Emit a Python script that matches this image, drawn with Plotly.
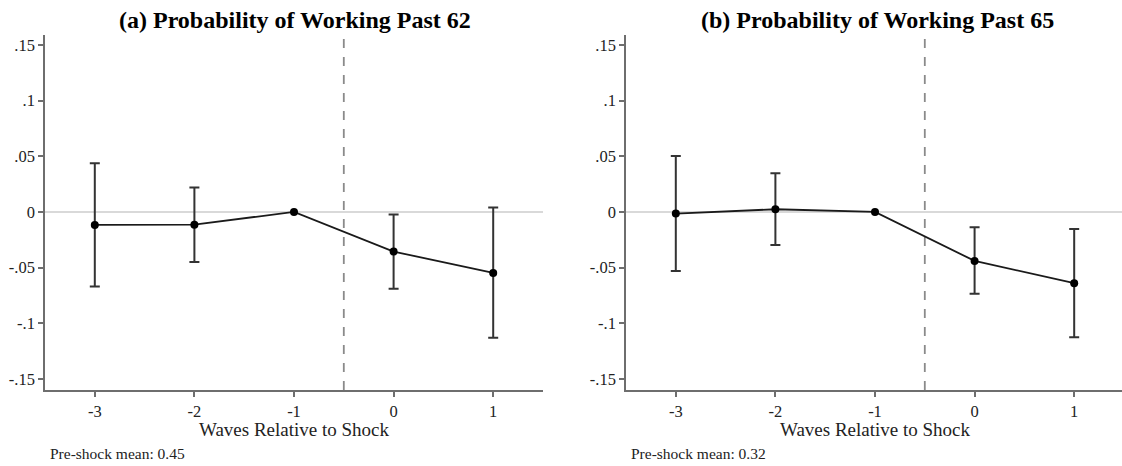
import plotly.graph_objects as go

# ---- data ----
waves = [-3, -2, -1, 0, 1]
x_tick_labels = ["-3", "-2", "-1", "0", "1"]
y_tick_vals = [-0.15, -0.10, -0.05, 0.0, 0.05, 0.10, 0.15]
y_tick_labels = ["-.15", "-.1", "-.05", "0", ".05", ".1", ".15"]

est_62 = [-0.0117, -0.0114, 0.0, -0.0356, -0.0548]
ci_hi_62 = [0.0437, 0.0220, 0.0, -0.0024, 0.0039]
ci_lo_62 = [-0.0670, -0.0450, 0.0, -0.0690, -0.1130]

est_65 = [-0.0015, 0.0024, 0.0, -0.0440, -0.0640]
ci_hi_65 = [0.0503, 0.0347, 0.0, -0.0137, -0.0153]
ci_lo_65 = [-0.0530, -0.0296, 0.0, -0.0736, -0.1125]

reference_wave = -1
shock_line_x = -0.5
titles = ["(a) Probability of Working Past 62", "(b) Probability of Working Past 65"]
x_title = "Waves Relative to Shock"
notes = ["Pre-shock mean: 0.45", "Pre-shock mean: 0.32"]

# ---- figure ----
W, H = 1122, 466
FONT = "Liberation Serif"
AXC = "#6e6e6e"

fig = go.Figure()

panels = [(est_62, ci_hi_62, ci_lo_62, "x", "y"),
          (est_65, ci_hi_65, ci_lo_65, "x2", "y2")]

for est, hi, lo, xa, ya in panels:
    idx = [i for i, w in enumerate(waves) if w != reference_wave]
    fig.add_trace(go.Scatter(
        x=[waves[i] for i in idx], y=[est[i] for i in idx],
        mode="markers", marker=dict(size=1, color="rgba(0,0,0,0)"),
        error_y=dict(type="data", symmetric=False,
                     array=[hi[i] - est[i] for i in idx],
                     arrayminus=[est[i] - lo[i] for i in idx],
                     color="#333333", thickness=2, width=5),
        xaxis=xa, yaxis=ya, showlegend=False, hoverinfo="skip"))
    fig.add_trace(go.Scatter(
        x=waves, y=est, mode="lines+markers",
        line=dict(color="#1a1a1a", width=1.8),
        marker=dict(size=8, color="#000000"),
        xaxis=xa, yaxis=ya, showlegend=False))

ydom = [1 - 390 / H, 1 - 35 / H]
axis_common = dict(showline=True, linecolor=AXC, linewidth=1.6, ticks="outside",
                   ticklen=5, tickwidth=1.5, tickcolor=AXC, showgrid=False,
                   zeroline=False, automargin=False,
                   tickfont=dict(family=FONT, size=16.5, color="#222222"))

fig.update_layout(
    width=W, height=H, margin=dict(l=0, r=0, t=0, b=0),
    paper_bgcolor="white", plot_bgcolor="white",
    xaxis=dict(domain=[45 / W, 543 / W], range=[-3.5, 1.5], anchor="y",
               tickvals=waves, ticktext=x_tick_labels, **axis_common),
    yaxis=dict(domain=ydom, range=[-0.16, 0.159], anchor="x",
               tickvals=y_tick_vals, ticktext=y_tick_labels, **axis_common),
    xaxis2=dict(domain=[626 / W, 1.0], range=[-3.5, 1.48], anchor="y2",
                tickvals=waves, ticktext=x_tick_labels, **axis_common),
    yaxis2=dict(domain=ydom, range=[-0.16, 0.159], anchor="x2",
                tickvals=y_tick_vals, ticktext=y_tick_labels, **axis_common),
)

for xa, ya in [("x", "y"), ("x2", "y2")]:
    fig.add_shape(type="line", xref=f"{xa} domain", yref=ya, x0=0, x1=1, y0=0, y1=0,
                  line=dict(color="#cccccc", width=1.6), layer="below")
    fig.add_shape(type="line", xref=xa, yref=f"{ya} domain", x0=shock_line_x, x1=shock_line_x,
                  y0=0, y1=1, line=dict(color="#8a8a8a", width=1.8, dash="dash"), layer="below")

title_x = [295 / W, 878 / W]
xtitle_x = [294 / W, 875 / W]
note_x = [48 / W, 629 / W]
for i in range(2):
    fig.add_annotation(text=f"<b>{titles[i]}</b>", x=title_x[i], y=1 - 20 / H,
                       xref="paper", yref="paper", showarrow=False,
                       xanchor="center", yanchor="middle",
                       font=dict(family=FONT, size=24, color="#000000"))
    fig.add_annotation(text=x_title, x=xtitle_x[i], y=1 - 429 / H,
                       xref="paper", yref="paper", showarrow=False,
                       xanchor="center", yanchor="middle",
                       font=dict(family=FONT, size=19, color="#222222"))
    fig.add_annotation(text=notes[i], x=note_x[i], y=1 - 453 / H,
                       xref="paper", yref="paper", showarrow=False,
                       xanchor="left", yanchor="middle",
                       font=dict(family=FONT, size=15.5, color="#222222"))

fig.write_html("out.html", config={"displayModeBar": False},
               post_script="document.body.style.margin='0';document.body.style.overflow='hidden';")
